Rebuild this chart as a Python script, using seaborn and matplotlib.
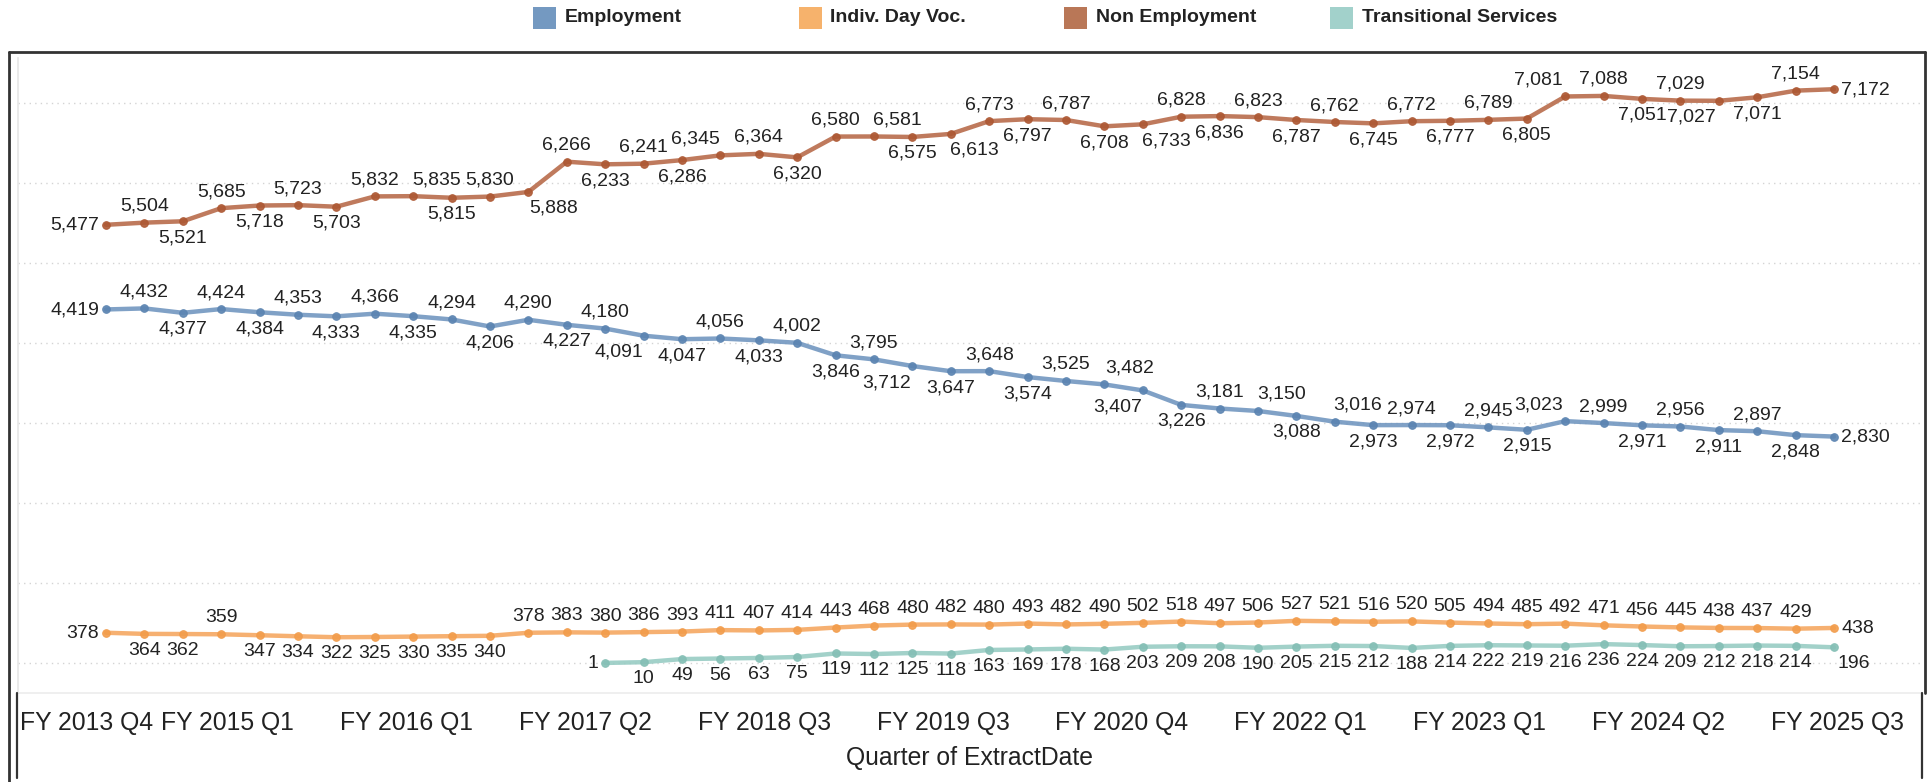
import numpy as np
import pandas as pd
import matplotlib as mpl
mpl.use('Agg')
import matplotlib.pyplot as plt
from matplotlib.patches import Rectangle
from matplotlib.lines import Line2D
import seaborn as sns

# ---- data (one value per quarter of ExtractDate) ----
employment = [4419, 4432, 4377, 4424, 4384, 4353, 4333, 4366, 4335, 4294, 4206, 4290,
              4227, 4180, 4091, 4047, 4056, 4033, 4002, 3846, 3795, 3712, 3647, 3648,
              3574, 3525, 3482, 3407, 3226, 3181, 3150, 3088, 3016, 2973, 2974, 2972,
              2945, 2915, 3023, 2999, 2971, 2956, 2911, 2897, 2848, 2830]
indiv_day_voc = [378, 364, 362, 359, 347, 334, 322, 325, 330, 335, 340, 378,
                 383, 380, 386, 393, 411, 407, 414, 443, 468, 480, 482, 480,
                 493, 482, 490, 502, 518, 497, 506, 527, 521, 516, 520, 505,
                 494, 485, 492, 471, 456, 445, 438, 437, 429, 438]
non_employment = [5477, 5504, 5521, 5685, 5718, 5723, 5703, 5832, 5835, 5815, 5830, 5888,
                  6266, 6233, 6241, 6286, 6345, 6364, 6320, 6580, 6581, 6575, 6613, 6773,
                  6797, 6787, 6708, 6733, 6828, 6836, 6823, 6787, 6762, 6745, 6772, 6777,
                  6789, 6805, 7081, 7088, 7051, 7029, 7027, 7071, 7154, 7172]
# transitional services only starts at the 14th quarter
transitional = [1, 10, 49, 56, 63, 75, 119, 112, 125, 118, 163, 169, 178, 168, 203, 209,
                208, 190, 205, 215, 212, 188, 214, 222, 219, 216, 236, 224, 209, 212,
                218, 214, 196]
transitional_start = 13

x_labels = ['FY 2013 Q4', 'FY 2015 Q1', 'FY 2016 Q1', 'FY 2017 Q2', 'FY 2018 Q3',
            'FY 2019 Q3', 'FY 2020 Q4', 'FY 2022 Q1', 'FY 2023 Q1', 'FY 2024 Q2',
            'FY 2025 Q3']

series_names = ['Employment', 'Indiv. Day Voc.', 'Non Employment', 'Transitional Services']

# ---- styling ----
line_colors = {'Employment': '#7297c0', 'Indiv. Day Voc.': '#f5a862',
               'Non Employment': '#b86c4b', 'Transitional Services': '#98ccc4'}
dot_colors = {'Employment': '#5b84b1', 'Indiv. Day Voc.': '#f29c4b',
              'Non Employment': '#ad5833', 'Transitional Services': '#84bfb5'}
legend_colors = {'Employment': '#7499c1', 'Indiv. Day Voc.': '#f6b26c',
                 'Non Employment': '#b97757', 'Transitional Services': '#a2d1cb'}

# label placement: l=left, r=right, a=above, b=below, B=below (left aligned)
placement = {
    'Employment': 'l' + 'ababababababa' + 'bb' + 'ab' + 'ab' + 'ab' + 'b' + 'ab' + 'aa'
                  + 'bb' + 'aa' + 'b' + 'ababab' + 'a' + 'abab' + 'ab' + 'r',
    'Indiv. Day Voc.': 'l' + 'bb' + 'a' + 'b' * 7 + 'a' * 34 + 'r',
    'Non Employment': 'l' + 'ababab' + 'aabab' + 'abab' + 'aab' + 'aabb' + 'ababb'
                      + 'ababababab' + 'aababba' + 'r',
    'Transitional Services': 'l' + 'b' * 31 + 'B',
}
# sideways nudges (pixels) where labels were pushed aside to avoid overlap
nudge = {
    ('Non Employment', 8): 23, ('Non Employment', 11): 25, ('Non Employment', 16): -25,
    ('Non Employment', 20): 23, ('Non Employment', 22): 24, ('Non Employment', 27): 24,
    ('Non Employment', 38): -27, ('Non Employment', 42): -27,
    ('Employment', 14): -25, ('Employment', 21): -26, ('Employment', 26): 25,
    ('Employment', 27): -25, ('Employment', 30): 24, ('Employment', 32): 23,
    ('Employment', 38): -27,
}

sns.set_style("white")
plt.rcParams['font.family'] = ['Liberation Sans', 'DejaVu Sans']

W, H = 1932, 782
fig = plt.figure(figsize=(W / 100, H / 100), dpi=100)
ax = fig.add_axes([18 / W, 1 - 693 / H, (1922 - 18) / W, (693 - 58) / H])

frames = []
for name, vals in zip(series_names, [employment, indiv_day_voc, non_employment, None]):
    if vals is None:
        q = np.arange(transitional_start, transitional_start + len(transitional))
        vals = transitional
    else:
        q = np.arange(len(vals))
    frames.append(pd.DataFrame({'quarter': q, 'value': vals, 'series': name}))
df = pd.concat(frames, ignore_index=True)

for name in series_names:
    sub = df[df.series == name]
    sns.lineplot(data=sub, x='quarter', y='value', ax=ax, color=line_colors[name],
                 linewidth=3.2, alpha=0.9, marker='o', markersize=5.5,
                 markerfacecolor=dot_colors[name], markeredgecolor=dot_colors[name],
                 legend=False)
    codes = placement[name]
    for i, (xq, v) in enumerate(zip(sub.quarter, sub.value)):
        c = codes[i]
        dx = nudge.get((name, i), 0)
        if c == 'a':
            off, ha = (dx, 12), 'center'
        elif c == 'b':
            off, ha = (dx, -21), 'center'
        elif c == 'B':
            off, ha = (3, -21), 'left'
        elif c == 'l':
            off, ha = (-7, -5), 'right'
        else:
            off, ha = (7, -5), 'left'
        ax.annotate(f'{v:,}', (xq, v), xytext=off, textcoords='offset pixels',
                    ha=ha, va='baseline', fontsize=14, color='#222222')

# axes scales
ax.set_xlim(-2.29, 47.29)
ax.set_ylim(-375, 7562)
ax.set_yticks(np.arange(0, 7001, 1000))
ax.set_yticklabels([])
ax.tick_params(axis='y', length=0)
ax.grid(axis='y', color='#d4d4d4', linestyle=(0, (1, 3)), linewidth=1.0)
ax.grid(axis='x', visible=False)

first_tick, tick_step = -1.48, 2.328
ticks = first_tick + tick_step * np.arange(2 * len(x_labels) - 1)
ax.set_xticks(ticks)
ax.set_xticklabels(['' if (k % 2 or k == 0) else x_labels[k // 2] for k in range(len(ticks))],
                   fontsize=17.8, color='#222222')
ax.tick_params(axis='x', length=7, width=1, color='#e6e6e6', pad=6)
# first label is squeezed inside the left edge of the axis
ax.annotate(x_labels[0], (0, 0), xycoords='axes fraction', xytext=(2, -18),
            textcoords='offset pixels', ha='left', va='top', fontsize=17.8,
            color='#222222')
ax.set_xlabel('Quarter of ExtractDate', fontsize=17.8, color='#222222', labelpad=8)
ax.set_ylabel('')

for s in ['top', 'right']:
    ax.spines[s].set_visible(False)
ax.spines['left'].set_color('#e6e6e6')
ax.spines['bottom'].set_color('#ececec')
ax.spines['left'].set_linewidth(1.2)
ax.spines['bottom'].set_linewidth(1.2)

# outer frame
def fline(xs, ys, lw=2.0, color='#333333'):
    fig.add_artist(Line2D([x / W for x in xs], [1 - y / H for y in ys],
                          transform=fig.transFigure, color=color, linewidth=lw))

fline([9, 9], [52, 782])
fline([9, 1925], [52, 52])
fline([1925, 1925], [52, 693])
fline([17, 17], [693, 778], lw=1.6)
fline([1922, 1922], [693, 778], lw=1.6)

# legend across the top
for k, name in enumerate(series_names):
    x0 = 533 + 265.5 * k
    fig.add_artist(Rectangle((x0 / W, 1 - 29 / H), 23 / W, 22 / H,
                             transform=fig.transFigure, facecolor=legend_colors[name],
                             edgecolor='none'))
    fig.text((x0 + 32) / W, 1 - 18 / H, name, ha='left', va='center',
             fontsize=14, fontweight='bold', color='#222222')

fig.savefig('out.png', dpi=100)
